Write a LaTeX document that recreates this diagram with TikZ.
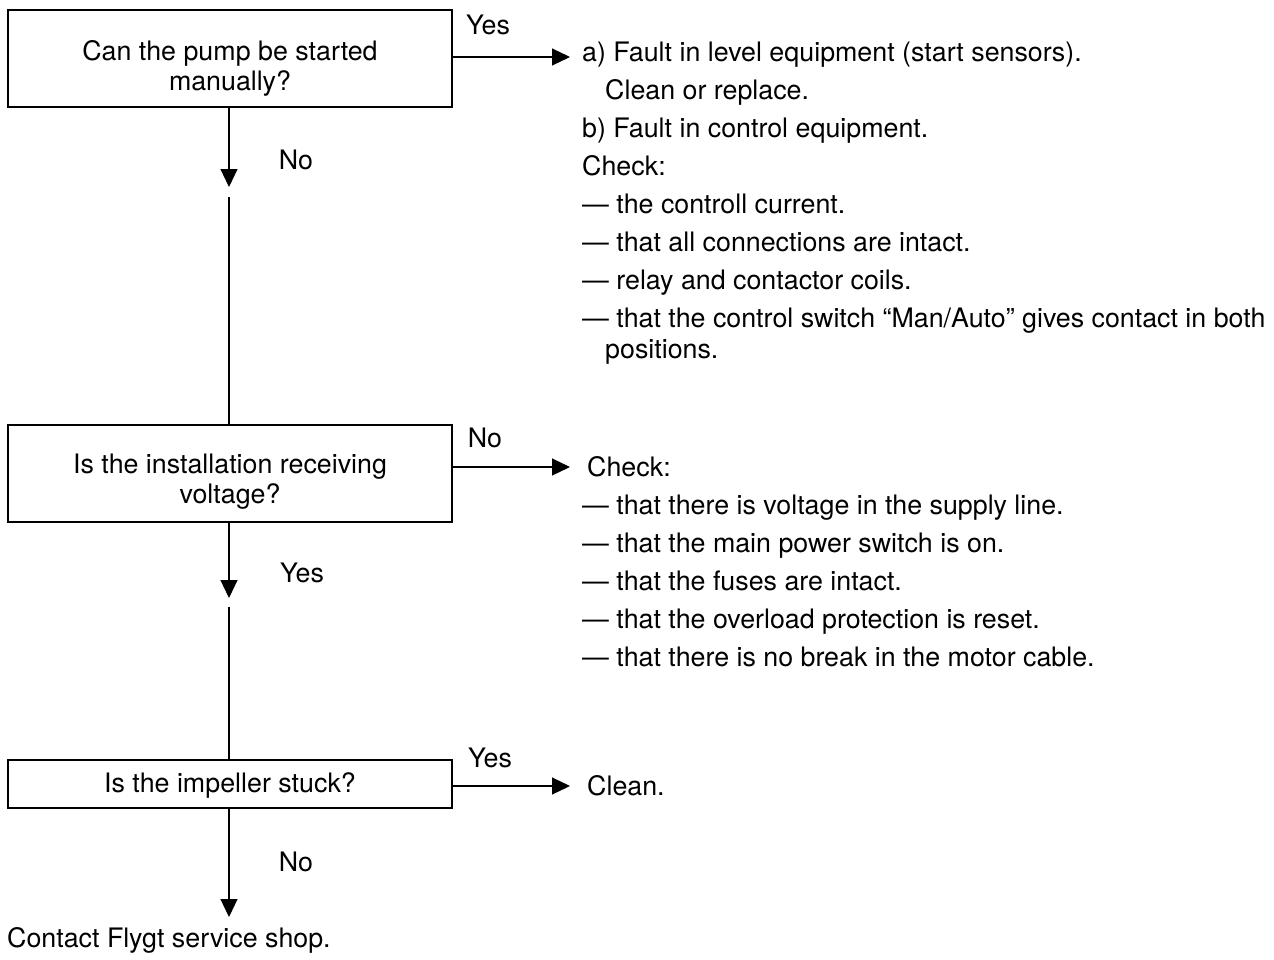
\documentclass[tikz,border=0pt]{standalone}
\usepackage{fontspec}
\setmainfont{TeX Gyre Heros}
\usetikzlibrary{arrows.meta}
\begin{document}
\begin{tikzpicture}[x=1pt,y=-1pt,font=\fontsize{26.8}{30}\selectfont,
  qbox/.style={draw,line width=1.1pt,minimum width=444,minimum height=97,inner sep=0pt},
  qtext/.style={align=center,inner sep=0pt,yshift=-#1},
  flow/.style={line width=1.1pt,-{Triangle[length=18pt,width=17pt]}},
  plain/.style={line width=1.1pt},
  note/.style={align=left,anchor=north west,inner sep=0pt,font=\fontsize{26.8}{38}\selectfont},
  answer/.style={inner sep=0pt}]
\useasboundingbox (0,0) rectangle (1274,959);
% questions
\node[qbox,label={[qtext=10pt,name=manual-q]center:Can the pump be started\\manually?}] (manual) at (230,58.5) {};
\node[qbox,label={[qtext=8pt,name=voltage-q]center:Is the installation receiving\\voltage?}] (voltage) at (230,473.5) {};
\node[qbox,minimum height=48,label={[qtext=1pt,name=stuck-q]center:Is the impeller stuck?}] (stuck) at (230,784) {};
\node[answer,anchor=west] (contact) at (7,940) {Contact Flygt service shop.};
% remedies
\node[note] (fault) at (582,42) {a)\ Fault in level equipment (start sensors).\\
  \hspace*{23pt}Clean or replace.\\
  b)\ Fault in control equipment.\\
  Check:\\
  --- the controll current.\\
  --- that all connections are intact.\\
  --- relay and contactor coils.\\
  --- that the control switch ``Man/Auto'' gives contact in both\\[-7pt]
  \hspace*{23pt}positions.};
\node[note] (supply) at (587,456) {Check:\\
  \hspace*{-5pt}--- that there is voltage in the supply line.\\
  \hspace*{-5pt}--- that the main power switch is on.\\
  \hspace*{-5pt}--- that the fuses are intact.\\
  \hspace*{-5pt}--- that the overload protection is reset.\\
  \hspace*{-5pt}--- that there is no break in the motor cable.};
\node[answer,anchor=west] (clean) at (587,786) {Clean.};
% connectors
\coordinate (tip1) at (229,187);
\coordinate (tail1) at (229,197);
\coordinate (tip2) at (229,598);
\coordinate (tail2) at (229,607);
\draw[flow] (manual.east |- 0,57) -- (570,57) coordinate (yes1);
\draw[flow] (voltage.east |- 0,467) -- (570,467) coordinate (no2);
\draw[flow] (stuck.east |- 0,786) -- (570,786) coordinate (yes3);
\draw[flow] (manual.south -| tip1) -- (tip1);
\draw[plain] (tail1) -- (voltage.north -| tail1);
\draw[flow] (voltage.south -| tip2) -- (tip2);
\draw[plain] (tail2) -- (stuck.north -| tail2);
\draw[flow] (stuck.south -| tip2) -- (229,917) coordinate (tip3);
% labels
\node[answer] (lyes1) at (488,25) {Yes};
\node[answer] (lno1) at (296,160) {No};
\node[answer] (lno2) at (485,438) {No};
\node[answer] (lyes2) at (302,573) {Yes};
\node[answer] (lyes3) at (490,758) {Yes};
\node[answer] (lno3) at (296,862) {No};
\end{tikzpicture}
\end{document}
